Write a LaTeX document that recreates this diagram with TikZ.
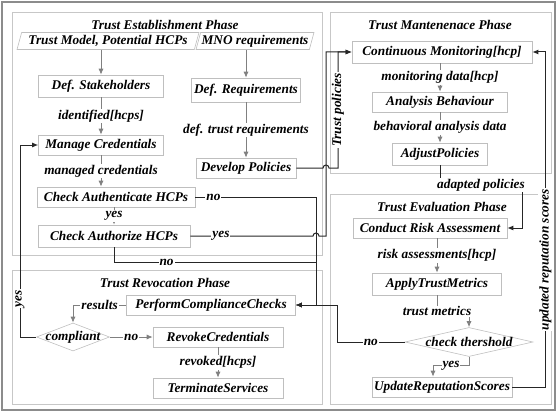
\documentclass[tikz,border=0pt]{standalone}
\usepackage{fontspec}
\setmainfont{Liberation Serif}
\usetikzlibrary{shapes, calc, arrows.meta}

\begin{document}
\begin{tikzpicture}[x=1pt, y=-1pt, >={Latex[length=6pt, width=5pt]}, font=\fontsize{13.3}{15}\selectfont\bfseries\itshape]
			\tikzstyle{panel}=[draw=black!22, line width=0.6pt]
			\tikzstyle{box}=[draw=black!25, line width=0.6pt, fill=white, inner sep=2pt]
			\tikzstyle{io}=[box, trapezium, trapezium left angle=72, trapezium right angle=108, trapezium stretches=true, minimum height=17pt, inner sep=1pt]
			\tikzstyle{decide}=[draw=black!25, line width=0.6pt, diamond, inner sep=0pt]
			\tikzstyle{lbl}=[fill=white, inner sep=1pt]
			\tikzstyle{flow}=[->, draw=black!50, line width=0.8pt]
			\tikzstyle{link}=[->, draw=black!85, line width=1pt]
			
			\useasboundingbox (0,0) rectangle (557,412);
			\draw[black!45, line width=1.5pt] (2,2) rectangle (555,410);
			
			%% the four phases
			\draw[panel] (12,12) rectangle (322,255);
			\draw[panel] (12,270) rectangle (322,404);
			\draw[panel] (330,12) rectangle (551,173);
			\draw[panel] (330,194) rectangle (551,404);
			
			\node (esttitle) at (165,25) {Trust Establishment Phase};
			\node (revtitle) at (165,283) {Trust Revocation Phase};
			\node (maintitle) at (440,25) {Trust Mantenenace Phase};
			\node (evaltitle) at (442,207) {Trust Evaluation Phase};
			
			%% establishment
			\node[io, minimum width=182pt] (tm) at (108,41) {Trust Model, Potential HCPs};
			\node[io, minimum width=115pt] (mno) at (255,41) {MNO requirements};
			\node[box, minimum width=125pt, minimum height=22pt] (stake) at (101,86) {Def. Stakeholders};
			\node[box, minimum width=109pt, minimum height=24pt] (defreq) at (246,90) {Def. Requirements};
			\node[box, minimum width=125pt, minimum height=20pt] (manage) at (101,145) {Manage Credentials};
			\node[box, minimum width=100pt, minimum height=20pt] (devpol) at (246,168) {Develop Policies};
			\node[box, minimum width=158pt, minimum height=20pt] (authn) at (116,197) {Check Authenticate HCPs};
			\node[box, minimum width=152pt, minimum height=22pt] (authz) at (114,236) {Check Authorize HCPs};
			
			%% revocation
			\node[box, minimum width=169pt, minimum height=20pt] (perform) at (211,305) {PerformComplianceChecks};
			\node[decide, minimum width=73pt, minimum height=28pt, label=center:{compliant}] (compliant) at (73,337) {};
			\node[box, minimum width=130pt, minimum height=20pt] (revoke) at (218,337) {RevokeCredentials};
			\node[box, minimum width=130pt, minimum height=20pt] (term) at (218,388) {TerminateServices};
			
			%% maintenance
			\node[box, minimum width=180pt, minimum height=22pt] (monitor) at (442,52) {Continuous Monitoring[hcp]};
			\node[box, minimum width=135pt, minimum height=20pt] (analysis) at (440,102) {Analysis Behaviour};
			\node[box, minimum width=95pt, minimum height=22pt] (adjust) at (440,154) {AdjustPolicies};
			
			%% evaluation
			\node[box, minimum width=154pt, minimum height=20pt] (conduct) at (430,228) {Conduct Risk Assessment};
			\node[box, minimum width=129pt, minimum height=22pt] (apply) at (437,284) {ApplyTrustMetrics};
			\node[decide, minimum width=128pt, minimum height=29pt, label=center:{check thershold}] (thr) at (469,342) {};
			\node[box, minimum width=135pt, minimum height=20pt] (update) at (442,387) {UpdateReputationScores};
			
			%% flows inside the phases
			\draw[flow] (tm.south -| stake.north) -- (stake.north);
			\draw[flow] (mno.south -| defreq.north) -- (defreq.north);
			\draw[flow] (stake.south) -- node[lbl] {identified[hcps]} (manage.north);
			\draw[flow] (manage.south) -- node[lbl] {managed credentials} (manage.south |- authn.north);
			\draw[flow] (authn.south -| authz.north) -- node[lbl] {yes} (authz.north);
			\draw[flow] (defreq.south) -- node[lbl] {def. trust requirements} (devpol.north);
			
			\draw[flow] (perform.west) -| node[lbl, pos=0.25] {results} (compliant.north);
			\draw[flow] (compliant.east) -- node[lbl] {no} (revoke.west);
			\draw[flow] (revoke.south) -- node[lbl] {revoked[hcps]} (term.north);
			
			\draw[flow] (monitor.south -| analysis.north) -- node[lbl] {monitoring data[hcp]} (analysis.north);
			\draw[flow] (analysis.south) -- node[lbl] {behavioral analysis data} (adjust.north);
			
			\draw[flow] (conduct.south -| apply.north) -- node[lbl] {risk assessments[hcp]} (apply.north);
			\draw[flow] (apply.south) |- node[lbl] {trust metrics} ($(thr.north)+(0,-16)$) -- (thr.north);
			\draw[flow] (thr.south) |- node[lbl, pos=0.75] {yes} ($(update.north)+(-9,-11)$) -- ($(update.north)+(-9,0)$);
			
			%% links between the phases
			\draw[link] (devpol.east) -- (323,168) arc[start angle=180, end angle=0, radius=3pt] -- (338,168) -- node[lbl, rotate=90] {Trust policies} (338,52) -- (monitor.west);
			\draw[link] (authz.east) -- node[lbl, pos=0.25] {yes} (313,236) arc[start angle=180, end angle=0, radius=3pt] -- (326,236) -- (326,52) -- (monitor.west);
			\draw[link] (authn.east) -- node[lbl, pos=0.15] {no} (316,197) -- (316,305) -- (perform.east);
			\draw[link] (authz.south) |- node[lbl, pos=0.63] {no} (316,262) |- (perform.east);
			\draw[link] (thr.west) -- node[lbl] {no} (337,342) -- (337,305) -- (perform.east);
			\draw[link] (compliant.west) -- (20,337) -- node[lbl, rotate=90, pos=0.2] {yes} (20,145) -- (manage.west);
			\draw[link] (adjust.south) |- node[lbl, pos=0.75] {adapted policies} (522,185) |- (conduct.east);
			\draw[link] (update.east) -| node[lbl, rotate=90, pos=0.69] {updated reputation scores} ($(monitor.east)+(13,0)$) -- (monitor.east);
			
			\end{tikzpicture}
\end{document}
